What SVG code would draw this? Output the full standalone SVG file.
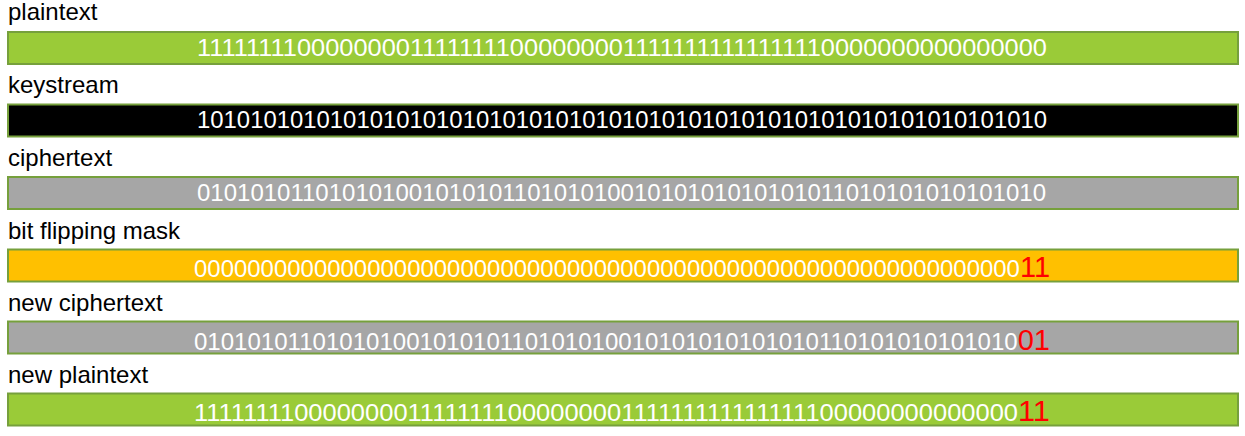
<svg xmlns="http://www.w3.org/2000/svg" width="1245" height="436" viewBox="0 0 1245 436">
<style>
.lbl{font-family:"Liberation Sans",Arial,sans-serif;font-size:24px;fill:#000}
.bits{font-family:"Liberation Sans",Arial,sans-serif;font-size:24px;fill:#fff}
.red{font-size:29px;fill:#ff0000}
.bar{stroke:#76A03C;stroke-width:2}
.green{fill:#9ACB38}
.black{fill:#000}
.gray{fill:#A6A6A6}
.orange{fill:#FFC000}
</style>
<rect width="1245" height="436" fill="#fff"/>
<g id="plaintext">
<text class="lbl" x="8" y="20">plaintext</text>
<rect class="bar green" x="8" y="32" width="1230" height="32"/>
<text class="bits" x="197" y="55.5" textLength="850" lengthAdjust="spacingAndGlyphs">1111111100000000111111110000000011111111111111110000000000000000</text>
</g>
<g id="keystream">
<text class="lbl" x="8" y="93">keystream</text>
<rect class="bar black" x="8" y="104.5" width="1230" height="32"/>
<text class="bits" x="197" y="128" textLength="850" lengthAdjust="spacingAndGlyphs">1010101010101010101010101010101010101010101010101010101010101010</text>
</g>
<g id="ciphertext">
<text class="lbl" x="8" y="166">ciphertext</text>
<rect class="bar gray" x="8" y="177" width="1230" height="32"/>
<text class="bits" x="197" y="200.5" textLength="849" lengthAdjust="spacingAndGlyphs">0101010110101010010101011010101001010101010101011010101010101010</text>
</g>
<g id="mask">
<text class="lbl" x="8" y="238.5">bit flipping mask</text>
<rect class="bar orange" x="8" y="249.5" width="1230" height="32"/>
<text class="bits" x="194" y="277" textLength="856" lengthAdjust="spacingAndGlyphs">00000000000000000000000000000000000000000000000000000000000000<tspan class="red">11</tspan></text>
</g>
<g id="new-ciphertext">
<text class="lbl" x="8" y="310.5">new ciphertext</text>
<rect class="bar gray" x="8" y="321.5" width="1230" height="32"/>
<text class="bits" x="194" y="349.5" textLength="856" lengthAdjust="spacingAndGlyphs">01010101101010100101010110101010010101010101010110101010101010<tspan class="red">01</tspan></text>
</g>
<g id="new-plaintext">
<text class="lbl" x="8" y="382.5">new plaintext</text>
<rect class="bar green" x="8" y="393.5" width="1230" height="32"/>
<text class="bits" x="194" y="421" textLength="856" lengthAdjust="spacingAndGlyphs">11111111000000001111111100000000111111111111111100000000000000<tspan class="red">11</tspan></text>
</g>
<g id="connectors"/>
</svg>
